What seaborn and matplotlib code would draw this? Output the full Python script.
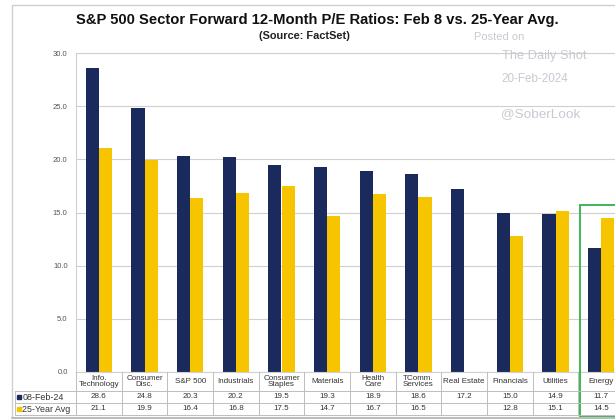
import numpy as np
import pandas as pd
import matplotlib
matplotlib.use("Agg")
import matplotlib.pyplot as plt
import matplotlib.transforms as mtransforms
from matplotlib.patches import Rectangle
import seaborn as sns

categories = ["Info.\nTechnology", "Consumer\nDisc.", "S&P 500", "Industrials",
              "Consumer\nStaples", "Materials", "Health\nCare", "TComm.\nServices",
              "Real Estate", "Financials", "Utilities", "Energy"]
current_pe = [28.6, 24.8, 20.3, 20.2, 19.5, 19.3, 18.9, 18.6, 17.2, 15.0, 14.9, 11.7]
avg_pe = [21.1, 19.9, 16.4, 16.8, 17.5, 14.7, 16.7, 16.5, np.nan, 12.8, 15.1, 14.5]
series_names = ["08-Feb-24", "25-Year Avg"]
y_ticks = [0, 5, 10, 15, 20, 25, 30]

navy = "#1b2a5c"
yellow = "#f7c500"
grid_c = "#d0d0d0"
txt_c = "#333333"

df = pd.DataFrame({
    "cat": categories * 2,
    "series": [series_names[0]] * len(categories) + [series_names[1]] * len(categories),
    "val": current_pe + avg_pe,
})

sns.set_theme(style="white")
plt.rcParams["font.family"] = ["Liberation Sans", "DejaVu Sans"]

W, H = 615, 420
fig = plt.figure(figsize=(W / 100, H / 100), dpi=100)
fig.patch.set_facecolor("white")

def fx(x):
    return x / W

def fy(y):
    return 1 - y / H

ax_left, ax_right, ax_top, ax_bot = 76, 624, 53, 372
ax = fig.add_axes([fx(ax_left), fy(ax_bot), fx(ax_right - ax_left), (ax_bot - ax_top) / H])
sns.barplot(data=df, x="cat", y="val", hue="series", order=categories,
            hue_order=series_names, palette=[navy, yellow], width=0.57,
            saturation=1, ax=ax, legend=False, edgecolor="none")
ax.set_xlim(-0.5, len(categories) - 0.5)
ax.set_ylim(0, 30)
ax.set_yticks(y_ticks)
ax.set_yticklabels([f"{t:.1f}" for t in y_ticks], fontsize=5.5, color="#555555")
ax.tick_params(axis="y", length=0, pad=6)
ax.set_xticks([])
ax.set_xlabel("")
ax.set_ylabel("")
ax.yaxis.grid(True, color=grid_c, linewidth=0.8)
ax.set_axisbelow(True)
for s in ax.spines.values():
    s.set_color(grid_c)
    s.set_linewidth(0.8)

# Data table below the axes
trans = mtransforms.blended_transform_factory(ax.transData, fig.transFigure)
row_y = [372, 391, 403, 415]
n = len(categories)
lc = "#bdbdbd"
tfs = 5.8
for yy in row_y[1:]:
    fig.add_artist(plt.Line2D([fx(15), fx(ax_right)], [fy(yy), fy(yy)], color=lc, lw=0.7))
for i in range(n + 1):
    fig.add_artist(plt.Line2D([i - 0.5, i - 0.5], [fy(row_y[0]), fy(row_y[3])],
                              transform=trans, color=lc, lw=0.7))
fig.add_artist(plt.Line2D([fx(15), fx(15)], [fy(row_y[1]), fy(row_y[3])], color=lc, lw=0.7))

for i, c in enumerate(categories):
    fig.text(i, fy((row_y[0] + row_y[1]) / 2), c, transform=trans, ha="center", va="center",
             fontsize=tfs, color=txt_c, linespacing=0.9)
    fig.text(i, fy((row_y[1] + row_y[2]) / 2), f"{current_pe[i]:.1f}", transform=trans,
             ha="center", va="center", fontsize=tfs, color=txt_c)
    if not np.isnan(avg_pe[i]):
        fig.text(i, fy((row_y[2] + row_y[3]) / 2), f"{avg_pe[i]:.1f}", transform=trans,
                 ha="center", va="center", fontsize=tfs, color=txt_c)

for k, (name, col) in enumerate(zip(series_names, [navy, yellow])):
    yc = fy((row_y[1 + k] + row_y[2 + k]) / 2)
    fig.add_artist(Rectangle((fx(17), yc - 2 / H), 4 / W, 4 / H, color=col,
                             transform=fig.transFigure))
    fig.text(fx(22.5), yc, name, ha="left", va="center", fontsize=6.4, color=txt_c)

# Outer frame
fig.add_artist(plt.Line2D([fx(12), fx(12)], [fy(5), fy(418)], color="#cfcfcf", lw=1))
fig.add_artist(plt.Line2D([fx(12), fx(615)], [fy(5), fy(5)], color="#cfcfcf", lw=1))
fig.add_artist(plt.Line2D([fx(12), fx(615)], [fy(418), fy(418)], color="#bbbbbb", lw=1.5))

# Green highlight around Energy
ei = categories.index("Energy")
fig.add_artist(Rectangle((ei - 0.5 + 0.03, fy(417)), 1.2, (417 - 205) / H, transform=trans,
                         fill=False, edgecolor="#2fb04a", lw=1.3))

# Titles
fig.text(fx(317), fy(20), "S&P 500 Sector Forward 12-Month P/E Ratios: Feb 8 vs. 25-Year Avg.",
         ha="center", va="center", fontsize=10.6, fontweight="bold", color="#111111")
fig.text(fx(304), fy(36), "(Source: FactSet)", ha="center", va="center", fontsize=7.9,
         fontweight="bold", color="#222222")

# Watermark
wm = "#c8cad2"
fig.text(fx(474), fy(37), "Posted on", ha="left", va="center", fontsize=8, color=wm)
fig.text(fx(502), fy(56), "The Daily Shot", ha="left", va="center", fontsize=9.3, color=wm)
fig.text(fx(501), fy(79), "20-Feb-2024", ha="left", va="center", fontsize=8.4, color=wm)
fig.text(fx(501), fy(114), "@SoberLook", ha="left", va="center", fontsize=9.7, color=wm)

fig.savefig("out.png", dpi=100)
